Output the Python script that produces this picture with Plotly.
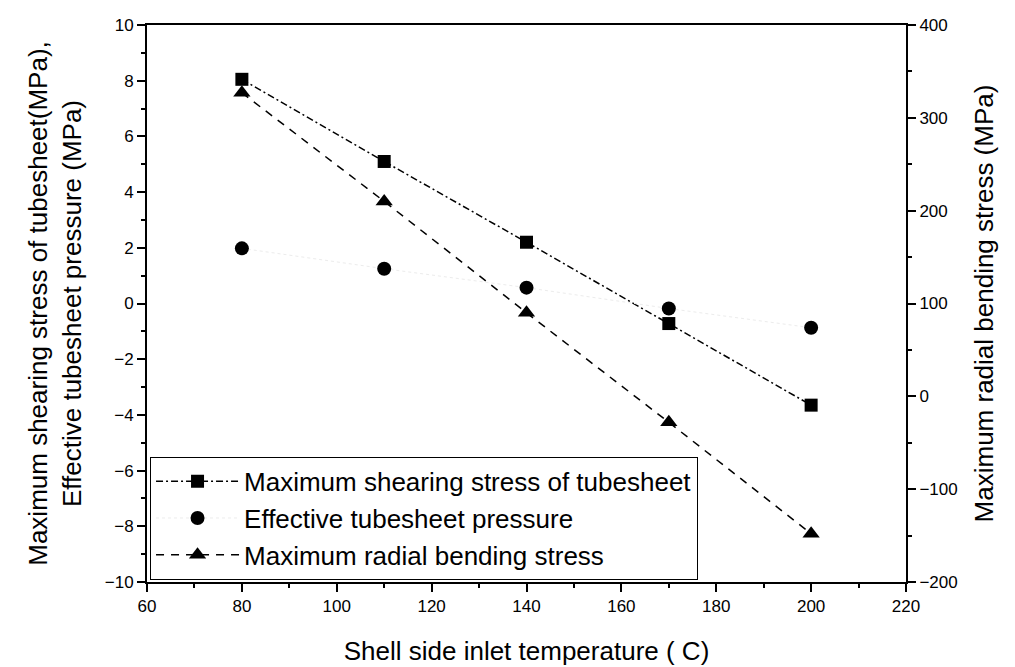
import plotly.graph_objects as go

# Shell side inlet temperature (°C)
temperature = [80, 110, 140, 170, 200]

# Left axis series (MPa)
max_shear_stress = [8.05, 5.10, 2.20, -0.72, -3.65]
effective_pressure = [1.98, 1.25, 0.57, -0.18, -0.87]

# Right axis series (MPa)
max_radial_bending = [327, 210, 90, -28, -148]

x_ticks = [60, 80, 100, 120, 140, 160, 180, 200, 220]
y_left_ticks = [-10, -8, -6, -4, -2, 0, 2, 4, 6, 8, 10]
y_right_ticks = [-200, -100, 0, 100, 200, 300, 400]

FONT = "Liberation Sans, Arial, sans-serif"

fig = go.Figure()

fig.add_trace(go.Scatter(
    x=temperature, y=max_shear_stress,
    name="Maximum shearing stress of tubesheet",
    mode="lines+markers",
    line=dict(color="black", width=1.5, dash="7px,3px,2px,3px"),
    marker=dict(symbol="square", size=13, color="black"),
))
fig.add_trace(go.Scatter(
    x=temperature, y=effective_pressure,
    name="Effective tubesheet pressure",
    mode="lines+markers",
    line=dict(color="rgb(236,236,236)", width=1, dash="dot"),
    marker=dict(symbol="circle", size=14, color="black"),
))
fig.add_trace(go.Scatter(
    x=temperature, y=max_radial_bending,
    name="Maximum radial bending stress",
    mode="lines+markers",
    yaxis="y2",
    line=dict(color="black", width=1.5, dash="8px,7px"),
    marker=dict(symbol="triangle-up", size=15, color="black"),
))

axis_common = dict(
    showline=True, linecolor="black", linewidth=2,
    ticks="outside", tickcolor="black", tickwidth=2, ticklen=8,
    showgrid=False, zeroline=False, automargin=False,
    tickfont=dict(family=FONT, size=17, color="black"),
)

TITLE_FONT = dict(family=FONT, size=26, color="black")

fig.update_layout(
    width=1015, height=667,
    margin=dict(l=147, r=109, t=25, b=85),
    paper_bgcolor="white", plot_bgcolor="white",
    font=dict(family=FONT, color="black"),
    showlegend=True,
    legend=dict(
        x=0.004, y=0.004, xanchor="left", yanchor="bottom",
        bgcolor="white", bordercolor="black", borderwidth=1,
        font=dict(family=FONT, size=26, color="black"),
        tracegroupgap=0, itemwidth=83,
    ),
    xaxis=dict(
        range=[60, 220], tickvals=x_ticks, mirror=True,
        minor=dict(dtick=10, ticks="outside", ticklen=4, tickcolor="black", tickwidth=1.5),
        title=dict(text="Shell side inlet temperature ( C)", font=TITLE_FONT, standoff=26),
        **axis_common,
    ),
    yaxis=dict(
        range=[-10, 10], tickvals=y_left_ticks,
        minor=dict(dtick=1, ticks="outside", ticklen=4, tickcolor="black", tickwidth=1.5),
        title=dict(text="Maximum shearing stress of tubesheet(MPa),<br>Effective tubesheet pressure (MPa)",
                   font=TITLE_FONT, standoff=16),
        **axis_common,
    ),
    yaxis2=dict(
        range=[-200, 400], tickvals=y_right_ticks,
        overlaying="y", side="right",
        minor=dict(dtick=50, ticks="outside", ticklen=4, tickcolor="black", tickwidth=1.5),
        title=dict(text="Maximum radial bending stress (MPa)", font=TITLE_FONT, standoff=18),
        **axis_common,
    ),
)

fig.write_html("out.html")
